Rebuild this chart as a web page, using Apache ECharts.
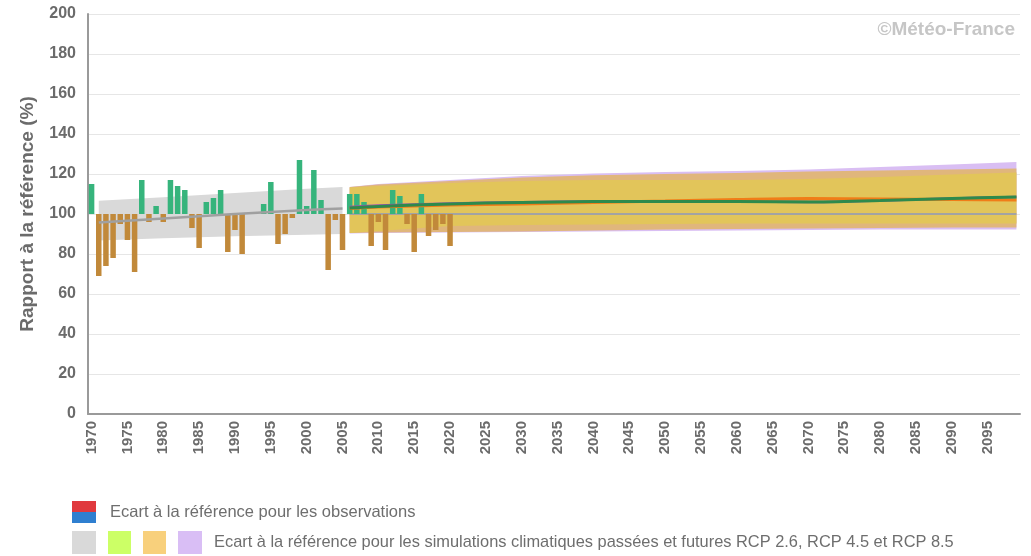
<!DOCTYPE html>
<html>
<head>
<meta charset="utf-8">
<script src="https://cdn.jsdelivr.net/npm/echarts@6/dist/echarts.min.js"></script>
<style>
html,body{margin:0;padding:0;background:#fff;}
#chart{width:1031px;height:556px;}
</style>
</head>
<body>
<div id="chart"></div>
<script>
// ---------- DATA ----------
const firstYear = 1970, lastYear = 2099;
const yTicks = [0, 20, 40, 60, 80, 100, 120, 140, 160, 180, 200];

// Observations 1970..2020 (ratio to reference, %)
const obsValues = [
  115, 69, 74, 78, 95, 87, 71, 117, 96, 104,
  96, 117, 114, 112, 93, 83, 106, 108, 112, 81,
  92, 80, 100, 100, 105, 116, 85, 90, 98, 127,
  104, 122, 107, 72, 97, 82, 110, 110, 106, 84,
  96, 82, 112, 109, 95, 81, 110, 89, 92, 95,
  84
];

// Past simulations (grey)
const histYears  = [1971, 1980, 1990, 2000, 2005];
const histLow    = [86.8, 87.9, 88.9, 89.6, 90.0];
const histHigh   = [106.6, 108.4, 110.5, 112.6, 113.5];
const histMedian = [95.8, 97.8, 100.0, 102.0, 102.8];

// Future simulations
const futYears   = [2006, 2010, 2020, 2030, 2040, 2050, 2060, 2070, 2080, 2090, 2099];
const rcp85Low   = [90.3, 90.5, 90.8, 91.0, 91.2, 91.5, 91.8, 92.0, 92.2, 92.3, 92.3];
const rcp85High  = [113.5, 115.0, 117.0, 119.0, 120.2, 121.0, 121.5, 122.3, 123.5, 124.8, 126.0];
const rcp45Low   = [90.5, 90.7, 91.0, 91.3, 91.8, 92.2, 92.5, 92.8, 93.0, 93.2, 93.3];
const rcp45High  = [113.5, 114.8, 116.5, 118.3, 119.4, 120.0, 120.5, 121.2, 121.8, 122.3, 122.8];
const rcp26Low   = [90.5, 91.5, 94.0, 94.5, 94.7, 95.0, 95.2, 95.3, 95.3, 95.3, 95.3];
const rcp26High  = [113.3, 114.0, 115.5, 116.5, 117.0, 117.0, 117.0, 117.5, 118.5, 119.8, 120.8];
const rcp85Median = [103.5, 104.2, 105.3, 105.9, 106.2, 106.3, 106.2, 106.0, 106.8, 107.8, 108.5];
const rcp45Median = [102.8, 103.5, 104.5, 105.0, 105.8, 106.5, 107.2, 107.7, 107.5, 107.2, 107.0];
const rcp26Median = [103.0, 103.8, 105.0, 105.8, 106.2, 106.3, 106.2, 106.0, 106.8, 107.8, 108.5];
const refYears = [2006, 2099];
const refValues = [100, 100];

// ---------- BUILD ----------
const categories = [];
for (let y = firstYear; y <= lastYear; y++) categories.push(String(y));

const GREEN = '#36b47c', BROWN = '#c1893a';
const GREY_TXT = '#6b6b6b';
const FONT = '"Liberation Sans", Arial, sans-serif';

function pairs(yrs, vals) { return yrs.map((y, i) => [String(y), vals[i]]); }

function band(name, yrs, lo, hi, color) {
  return [
    { type: 'line', name: name + 'lo', stack: name, z: 1, data: pairs(yrs, lo),
      symbol: 'none', lineStyle: { opacity: 0 }, silent: true },
    { type: 'line', name: name + 'hi', stack: name, z: 1, data: pairs(yrs, hi.map((v, i) => v - lo[i])),
      symbol: 'none', lineStyle: { opacity: 0 }, areaStyle: { color: color, opacity: 1 }, silent: true }
  ];
}
function medLine(name, yrs, vals, color, width) {
  return { type: 'line', name: name, z: 5, data: pairs(yrs, vals), symbol: 'none', smooth: 0.3,
    lineStyle: { color: color, width: width } };
}

const series = [
  ...band('hist', histYears, histLow, histHigh, '#d9d9d9'),
  ...band('r85', futYears, rcp85Low, rcp85High, '#d9bef3'),
  ...band('r45', futYears, rcp45Low, rcp45High, '#e0b67c'),
  ...band('r26', futYears, rcp26Low, rcp26High, '#e2c55a'),
  { type: 'line', name: 'ref', z: 2, data: pairs(refYears, refValues), symbol: 'none',
    lineStyle: { color: '#a3a3a3', width: 2 } },
  { type: 'bar', name: 'obsBase', stack: 'obs', z: 3, barWidth: 5.5,
    data: obsValues.map(v => Math.min(v, 100)), itemStyle: { color: 'rgba(0,0,0,0)' }, silent: true },
  { type: 'bar', name: 'obs', stack: 'obs', z: 3, barWidth: 5.5,
    data: obsValues.map(v => ({ value: Math.abs(v - 100), itemStyle: { color: v >= 100 ? GREEN : BROWN } })) },
  medLine('histMed', histYears, histMedian, '#a0a0a0', 2.5),
  medLine('r85Med', futYears, rcp85Median, '#9b4fb0', 2.5),
  medLine('r45Med', futYears, rcp45Median, '#f07d18', 3),
  medLine('r26Med', futYears, rcp26Median, '#2e8a4c', 3)
];

const chart = echarts.init(document.getElementById('chart'), null, { renderer: 'canvas' });
chart.setOption({
  animation: false,
  backgroundColor: '#fff',
  grid: { left: 88, right: 11, top: 14, bottom: 142, containLabel: false },
  xAxis: {
    type: 'category', data: categories, boundaryGap: true,
    axisLine: { show: true, lineStyle: { color: '#9a9a9a', width: 2 } },
    axisTick: { show: false },
    axisLabel: { interval: 4, rotate: 90, margin: 7, color: GREY_TXT,
      fontFamily: FONT, fontWeight: 'bold', fontSize: 15 },
    splitLine: { show: false }
  },
  yAxis: {
    type: 'value', min: yTicks[0], max: yTicks[yTicks.length - 1], interval: 20,
    name: 'Rapport à la référence (%)', nameLocation: 'middle', nameGap: 51, nameRotate: 90,
    nameTextStyle: { color: GREY_TXT, fontFamily: FONT, fontWeight: 'bold', fontSize: 19 },
    axisLine: { show: true, lineStyle: { color: '#9a9a9a', width: 2 } },
    axisTick: { show: false },
    axisLabel: { color: GREY_TXT, margin: 12, fontFamily: FONT, fontWeight: 'bold', fontSize: 16 },
    splitLine: { show: true, lineStyle: { color: '#e6e6e6', width: 1 } }
  },
  series: series,
  graphic: [
    { type: 'text', right: 16, top: 20, style: { text: '©Météo-France', fill: '#c6c6c6',
      font: 'bold 19px ' + FONT } },
    { type: 'rect', left: 72, top: 501, shape: { width: 24, height: 11 }, style: { fill: '#e0393e' } },
    { type: 'rect', left: 72, top: 512, shape: { width: 24, height: 11 }, style: { fill: '#2f7fd0' } },
    { type: 'text', left: 110, top: 504, style: { text: 'Ecart à la référence pour les observations', fill: '#6e6e6e',
      font: '16.5px ' + FONT } },
    { type: 'rect', left: 72, top: 531, shape: { width: 24, height: 23 }, style: { fill: '#d9d9d9' } },
    { type: 'rect', left: 108, top: 531, shape: { width: 23, height: 23 }, style: { fill: '#ccff66' } },
    { type: 'rect', left: 143, top: 531, shape: { width: 23, height: 23 }, style: { fill: '#f8d07c' } },
    { type: 'rect', left: 178, top: 531, shape: { width: 24, height: 23 }, style: { fill: '#d9bef5' } },
    { type: 'text', left: 214, top: 534, style: { text: 'Ecart à la référence pour les simulations climatiques passées et futures RCP 2.6, RCP 4.5 et RCP 8.5', fill: '#6e6e6e',
      font: '16.4px ' + FONT } }
  ]
});
</script>
</body>
</html>
